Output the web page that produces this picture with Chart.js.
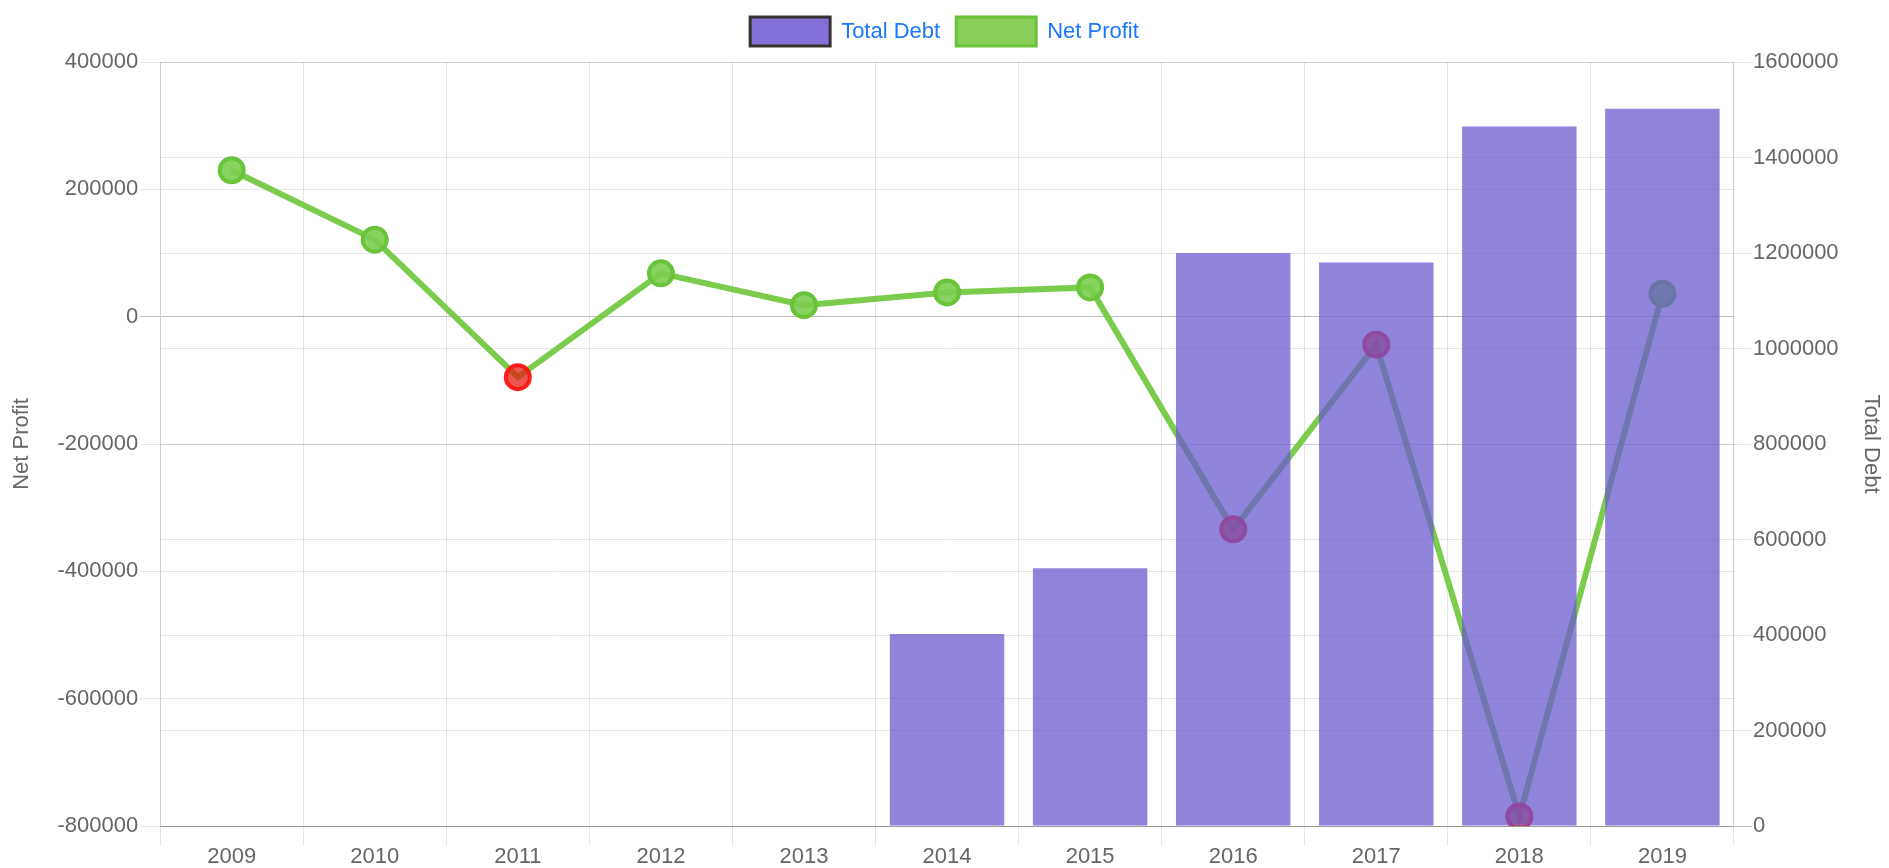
<!DOCTYPE html>
<html>
<head>
<meta charset="utf-8">
<script src="https://cdn.jsdelivr.net/npm/chart.js@4/dist/chart.umd.min.js"></script>
<style>
  html, body { margin: 0; padding: 0; background: #fff; }
  #wrap { width: 1889px; height: 868px; }
</style>
</head>
<body>
<div id="wrap"><canvas id="c" width="1889" height="868"></canvas></div>
<script>
const years = ['2009','2010','2011','2012','2013','2014','2015','2016','2017','2018','2019'];
const totalDebt = [null, null, null, null, null, 402000, 540000, 1200000, 1180000, 1465000, 1502000];
const netProfit = [230000, 121000, -95000, 68000, 18000, 38000, 46000, -334000, -44000, -785000, 36000];
const netProfitTicks = { min: -800000, max: 400000, step: 200000 };
const totalDebtTicks = { min: 0, max: 1600000, step: 200000 };

const FONT = "'Liberation Sans', Arial, Helvetica, sans-serif";
const gridColor = ctx => (ctx.tick && ctx.tick.value === 0) ? 'rgba(0,0,0,0.25)' : 'rgba(0,0,0,0.1)';
const plainNumber = v => String(v);

const legendSpacing = {
  id: 'legendSpacing',
  beforeInit(chart) {
    const lg = chart.legend;
    if (!lg) return;
    const origFit = lg.fit;
    lg.fit = function () {
      origFit.call(this);
      this.height += 6;
    };
  }
};

const chart = new Chart(document.getElementById('c'), {
  type: 'bar',
  plugins: [legendSpacing],
  data: {
    labels: years,
    datasets: [
      {
        type: 'bar',
        label: 'Total Debt',
        data: totalDebt,
        yAxisID: 'y1',
        backgroundColor: 'rgba(106,90,205,0.75)',
        borderWidth: 0,
        barPercentage: 1.0,
        categoryPercentage: 0.8
      },
      {
        type: 'line',
        label: 'Net Profit',
        data: netProfit,
        yAxisID: 'y',
        borderColor: 'rgba(112,200,62,0.92)',
        backgroundColor: 'rgba(125,205,80,0.85)',
        borderWidth: 6,
        tension: 0,
        fill: false,
        pointRadius: 12,
        pointHoverRadius: 12,
        pointBorderWidth: 4,
        pointBorderColor: ctx => (ctx.raw < 0 ? 'rgba(255,20,20,0.95)' : 'rgba(105,196,58,1)'),
        pointBackgroundColor: ctx => (ctx.raw < 0 ? 'rgba(230,30,20,0.75)' : 'rgba(122,205,80,0.9)')
      }
    ]
  },
  options: {
    responsive: false,
    animation: false,
    devicePixelRatio: 1,
    layout: { padding: { left: 0, right: 0, top: 1, bottom: 0 } },
    plugins: {
      tooltip: { enabled: false },
      legend: {
        position: 'top',
        labels: {
          font: { family: FONT, size: 22 },
          color: '#1a78ff',
          boxWidth: 80,
          boxHeight: 29,
          padding: 16,
          generateLabels: (c) => {
            const items = Chart.defaults.plugins.legend.labels.generateLabels(c);
            items.forEach(it => {
              if (it.text === 'Total Debt') {
                it.fillStyle = 'rgba(130,112,215,1)';
                it.strokeStyle = 'rgba(45,42,38,0.95)';
                it.lineWidth = 3;
              } else {
                it.fillStyle = 'rgba(135,205,90,1)';
                it.strokeStyle = 'rgba(105,196,58,1)';
                it.lineWidth = 3;
              }
            });
            return items;
          }
        }
      }
    },
    scales: {
      x: {
        offset: true,
        grid: { color: 'rgba(0,0,0,0.1)', tickLength: 20, offset: true },
        border: { color: 'rgba(0,0,0,0.1)' },
        ticks: { font: { family: FONT, size: 22, lineHeight: 1.0 }, color: '#666', padding: 0, maxRotation: 0 }
      },
      y: {
        position: 'left',
        min: netProfitTicks.min,
        max: netProfitTicks.max,
        ticks: { stepSize: netProfitTicks.step, callback: plainNumber, font: { family: FONT, size: 22 }, color: '#666', padding: 2 },
        grid: { color: gridColor, tickLength: 20 },
        border: { color: 'rgba(0,0,0,0.1)' },
        title: { display: true, text: 'Net Profit', font: { family: FONT, size: 22 }, color: '#666', padding: { top: 9, bottom: 20 } }
      },
      y1: {
        position: 'right',
        min: totalDebtTicks.min,
        max: totalDebtTicks.max,
        ticks: { stepSize: totalDebtTicks.step, callback: plainNumber, font: { family: FONT, size: 22 }, color: '#666', padding: 1 },
        grid: { color: gridColor, tickLength: 18 },
        border: { color: 'rgba(0,0,0,0.1)' },
        title: { display: true, text: 'Total Debt', font: { family: FONT, size: 22 }, color: '#666', padding: { top: 5, bottom: 18 } }
      }
    }
  }
});
</script>
</body>
</html>
